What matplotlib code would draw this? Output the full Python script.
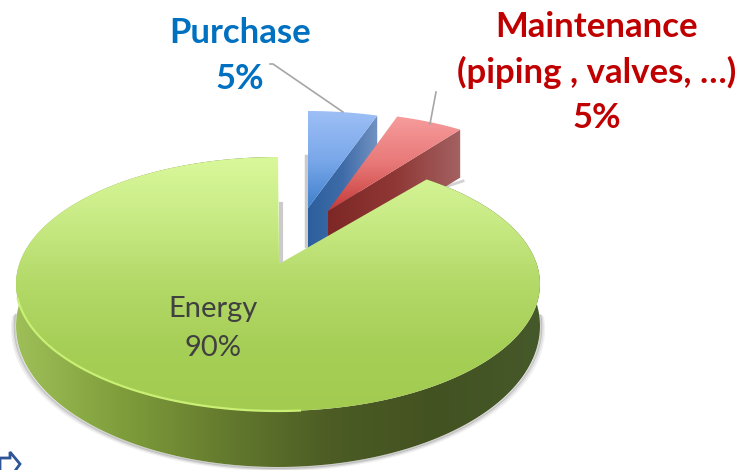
import numpy as np
import matplotlib
matplotlib.use("Agg")
import matplotlib.pyplot as plt
from matplotlib.colors import LinearSegmentedColormap
from matplotlib.patches import Polygon

plt.rcParams['font.family'] = ['Lato', 'DejaVu Sans']

# slice sizes, clockwise from the top
names = ['Purchase', 'Maintenance', 'Energy']
shares = [4.8, 4.8, 90.4]

purchase_label = ['Purchase', '5%']
maintenance_label = ['Maintenance', '(piping , valves, …)', '5%']
energy_label = ['Energy', '90%']

edges = np.concatenate([[0], np.cumsum(shares)]) * 3.6

fig = plt.figure(figsize=(7.44, 4.70), dpi=100)
ax = fig.add_axes([0, 0, 1, 1])


def rim(cx, cy, rx, ry, t0, t1):
    t = np.radians(np.linspace(t0, t1, 200))
    return np.column_stack([cx + rx * np.sin(t), cy - ry * np.cos(t)])


def grad_fill(pts, colors, horizontal, zorder):
    # gradient image clipped to a polygon
    x0, x1 = pts[:, 0].min(), pts[:, 0].max()
    y0, y1 = pts[:, 1].min(), pts[:, 1].max()
    cmap = LinearSegmentedColormap.from_list('g', colors)
    g = np.linspace(0, 1, 256)
    g = g.reshape(1, -1) if horizontal else g.reshape(-1, 1)
    im = ax.imshow(g, cmap=cmap, extent=[x0, x1, y1, y0], aspect='auto',
                   interpolation='bilinear', zorder=zorder)
    p = Polygon(pts, closed=True, transform=ax.transData, fc='none', ec='none')
    ax.add_patch(p)
    im.set_clip_path(p)


def side_wall(top_pts, depth):
    low = top_pts + np.column_stack([np.zeros(len(top_pts)), depth])
    return np.vstack([top_pts, low[::-1]])


# ---- purchase slice
a0, a1 = edges[0], edges[1]
arc = rim(308, 213, 233, 102, a0, a1)
apex = np.array([[308, 208]])
wall = np.vstack([apex, arc[-1:], arc[-1:] + [0, 39], [[330, 252], [308, 252]]])
ax.plot([306, 306], [156, 246], color='#b5b5b5', lw=2.5, alpha=0.7, zorder=1)
grad_fill(wall, ['#2c5f9e', '#3f6ca8', '#7393c2'], True, 2)
grad_fill(np.vstack([apex, arc]), ['#9dbff6', '#7aa8ea', '#3f80cc'], False, 3)

# ---- maintenance slice
a0, a1 = edges[1], edges[2]
arc = rim(328, 212, 233, 100, a0, a1)
apex = np.array([[328, 211]])
ax.plot([448, 463], [186, 181], color='#b5b5b5', lw=2, alpha=0.6, zorder=3)
wall = np.vstack([apex, arc[-1:], arc[-1:] + [0, 48], apex + [0, 48]])
grad_fill(wall, ['#7d2826', '#8f3735', '#a36262'], True, 4)
grad_fill(np.vstack([apex, arc]), ['#f79c9c', '#e87878', '#c43a36'], False, 5)

# ---- energy slice
a0, a1 = edges[2], edges[3]
arc = rim(278, 284, 262, 127, a0, a1)
apex = np.array([[279, 264]])
t = np.radians(np.linspace(a0, a1, 200))
depth = 42 - 14 * np.cos(t)
ax.plot([281, 281], [204, 262], color='#b5b5b5', lw=3, alpha=0.7, zorder=5)

# soft drop shadow under the wall
low_edge = arc + np.column_stack([np.zeros(len(arc)), depth])
keep = (t > np.radians(85)) & (t < np.radians(275))
for off, al in [(4, 0.10), (2.5, 0.2), (1.2, 0.35)]:
    ax.plot(low_edge[keep, 0] + np.sin(t[keep]) * off, low_edge[keep, 1] + off * 0.8,
            color='#777777', lw=1.5, alpha=al, zorder=5)

wall = side_wall(arc, depth)
grad_fill(wall, ['#9ebf58', '#7f9e3b', '#647a2e', '#4c5c24', '#435221', '#46592a'], True, 6)
grad_fill(np.vstack([apex, arc]), ['#d9f89b', '#c8ea84', '#b3d968', '#a6cf57', '#a2cb50'], False, 7)

# light rim on the lit side of the top face
lit = (t > np.radians(175)) & (t < np.radians(265))
ax.plot(arc[lit, 0], arc[lit, 1], color='#c9ef74', lw=1.6, zorder=8)

# ---- leader lines
ax.plot([270, 273, 343], [64, 64, 112], color='#a6a6a6', lw=1.2, zorder=9)
ax.plot([436, 430], [92, 124], color='#a6a6a6', lw=1.2, zorder=9)

# ---- labels
for s, y in zip(purchase_label, [33, 79]):
    ax.text(240, y, s, color='#0070c0', fontsize=25, fontweight='bold',
            ha='center', va='center', zorder=10)
for s, y in zip(maintenance_label, [27, 72, 118]):
    ax.text(597, y, s, color='#c00000', fontsize=25, fontweight='bold',
            ha='center', va='center', zorder=10)
for s, y in zip(energy_label, [309, 348]):
    ax.text(213, y, s, color='#404040', fontsize=21,
            ha='center', va='center', zorder=10)

# ---- bit of an arrow cut off at the bottom left corner
ax.add_patch(Polygon([[0, 458], [10, 458], [10, 452], [20, 464], [12, 475], [0, 475]],
                     closed=True, fc='white', ec='#2f5597', lw=2, zorder=10))

ax.set_xlim(0, 744)
ax.set_ylim(470, 0)
ax.axis('off')
fig.savefig('out.png', dpi=100)
